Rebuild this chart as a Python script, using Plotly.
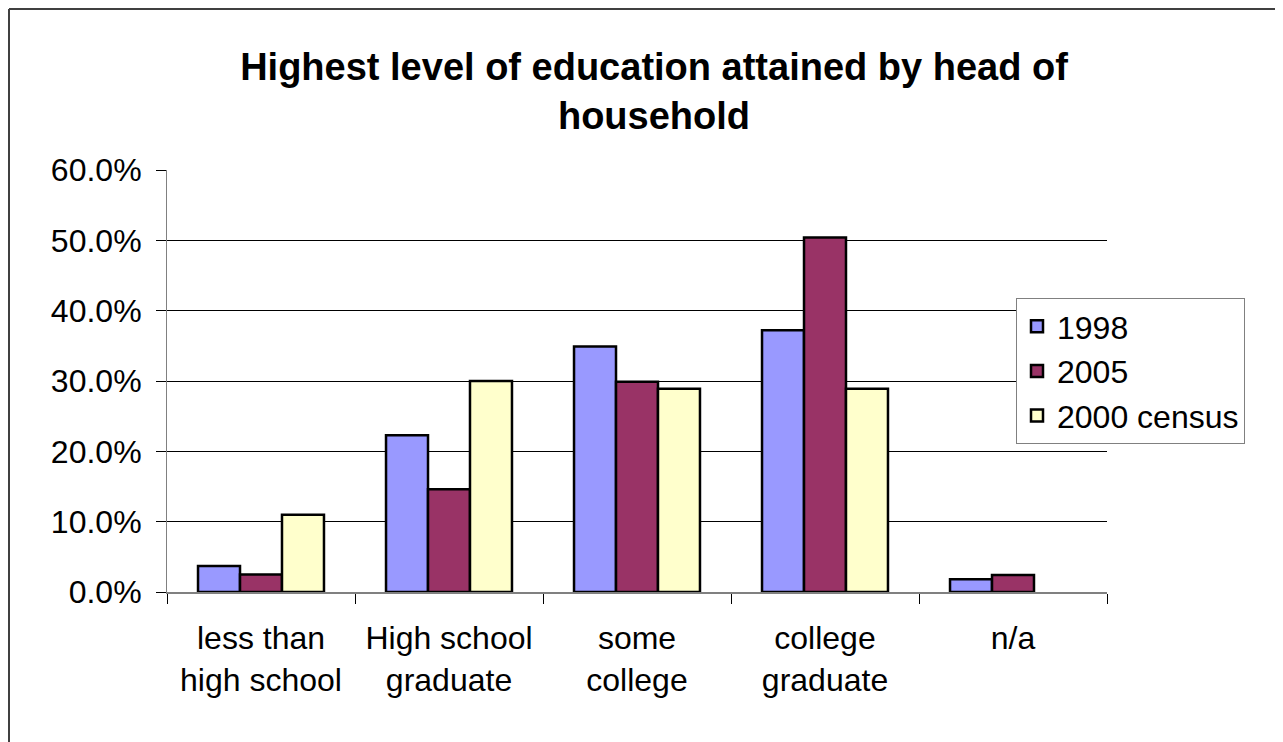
import plotly.graph_objects as go

categories = ["less than<br>high school", "High school<br>graduate", "some<br>college",
              "college<br>graduate", "n/a"]
series_names = ["1998", "2005", "2000 census"]
values_1998 = [3.7, 22.3, 34.9, 37.2, 1.8]
values_2005 = [2.5, 14.6, 29.9, 50.4, 2.4]
values_census = [11.0, 30.0, 28.9, 28.9, None]
colors = ["#9999FF", "#993366", "#FFFFCC"]

FONT = "Liberation Sans, Arial, sans-serif"

fig = go.Figure()
for name, vals, col in zip(series_names, [values_1998, values_2005, values_census], colors):
    fig.add_trace(go.Bar(
        name=name, x=categories, y=vals,
        marker=dict(color=col, line=dict(color="#000000", width=2.5)),
    ))

# page body has an 8px default margin; compensate
OFF = 8
W, H = 1283 - OFF, 742 - OFF
L, T = 167 - OFF, 170 - OFF
R = W - (1107 - OFF)
B = H - (592 - OFF)
pw, ph = W - L - R, H - T - B


def px_x(p):
    return (p - OFF - L) / pw


def px_y(p):
    return (H - B - (p - OFF)) / ph


fig.update_layout(
    width=W, height=H,
    margin=dict(l=L, r=R, t=T, b=B),
    paper_bgcolor="white", plot_bgcolor="white",
    barmode="group", bargap=0.33, bargroupgap=0,
    font=dict(family=FONT, size=32, color="#000000"),
    title=dict(
        text="<b>Highest level of education attained by head of<br>household</b>",
        font=dict(family=FONT, size=38, color="#000000"),
        x=(654 - OFF) / W, xanchor="center", xref="container",
        y=1 - 72 / H, yanchor="top", yref="container",
    ),
    legend=dict(
        x=px_x(1016), xanchor="left",
        y=px_y(298), yanchor="top",
        bgcolor="white", bordercolor="#808080", borderwidth=1,
        font=dict(family=FONT, size=32, color="#000000"),
        tracegroupgap=0,
    ),
    xaxis=dict(
        showline=True, linecolor="#808080", linewidth=2,
        ticks="outside", tickson="boundaries", ticklen=10, tickcolor="#000000", tickwidth=1,
        showgrid=False, tickfont=dict(family=FONT, size=32), ticklabelstandoff=17,
    ),
    yaxis=dict(
        range=[0, 60], dtick=10, tickformat=".1f", ticksuffix="%",
        showline=True, linecolor="#808080", linewidth=1,
        ticks="outside", ticklen=10, tickcolor="#000000", tickwidth=1,
        showgrid=True, gridcolor="#000000", gridwidth=1,
        zeroline=False, tickfont=dict(family=FONT, size=32), ticklabelstandoff=8,
    ),
    shapes=[
        dict(type="line", xref="paper", yref="paper",
             x0=px_x(9), x1=px_x(1300),
             y0=px_y(9), y1=px_y(9),
             line=dict(color="#404040", width=2)),
        dict(type="line", xref="paper", yref="paper",
             x0=px_x(9), x1=px_x(9),
             y0=px_y(9), y1=px_y(760),
             line=dict(color="#404040", width=2)),
    ],
)

fig.write_html("out.html")
